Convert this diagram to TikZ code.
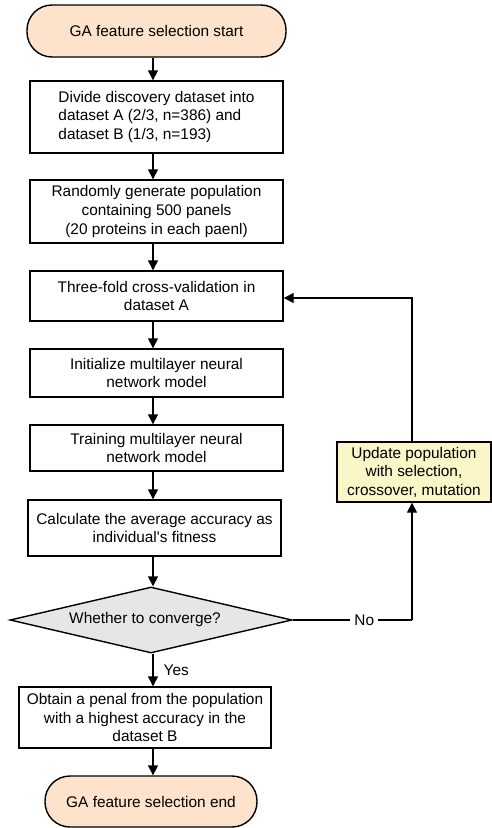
\documentclass[tikz,border=0pt]{standalone}
\usepackage{fontspec}
\setmainfont{Liberation Sans}
\usetikzlibrary{shapes.geometric,arrows.meta}
\definecolor{peach}{HTML}{FDE3CB}
\definecolor{ylw}{HTML}{FAF6C8}
\definecolor{gry}{HTML}{E6E6E6}
\begin{document}
\begin{tikzpicture}[x=1pt,y=-1pt,
  every node/.style={font=\fontsize{15.4}{18.6}\selectfont, inner sep=0pt},
  proc/.style={draw, line width=1.4pt, fill=white, minimum width=253pt, align=center},
  term/.style={draw, line width=1.4pt, fill=peach, rounded corners=25pt},
  arr/.style={line width=1.4pt, -{Triangle[length=10pt,width=10pt]}},
  ln/.style={line width=1.4pt}]
\useasboundingbox (0,0) rectangle (492,828);
\node[term, minimum width=259pt, minimum height=52pt] (start) at (156.5,31) {GA feature selection start};
\node[proc, minimum height=72pt, align=left] (b1) at (156.5,117) {Divide discovery dataset into\\dataset A (2/3, n=386) and\\dataset B (1/3, n=193)};
\node[proc, minimum height=63pt] (b2) at (156.5,211.5) {Randomly generate population\\containing 500 panels\\(20 proteins in each paenl)};
\node[proc, minimum height=50pt] (b3) at (156.5,296) {Three-fold cross-validation in\\dataset A};
\node[proc, minimum height=48pt] (b4) at (156.5,373) {Initialize multilayer neural\\network model};
\node[proc, minimum height=46pt] (b5) at (156.5,448) {Training multilayer neural\\network model};
\node[proc, minimum height=56pt] (b6) at (154.5,528) {Calculate the average accuracy as\\individual\textquotesingle s fitness};
\node[draw, line width=1.4pt, fill=gry, shape=diamond, aspect=4.27, minimum width=282pt, minimum height=66pt] (dec) at (151,620) {Whether to converge?\hspace*{12pt}};
\node[proc, minimum width=252pt, minimum height=61pt] (b7) at (145,717.5) {Obtain a penal from the population\\with a highest accuracy in the\\dataset B};
\node[term, minimum width=212pt, minimum height=51pt] (end) at (151,801.5) {GA feature selection end};
\node[draw, line width=1.4pt, fill=ylw, minimum width=154pt, minimum height=60pt, align=center] (upd) at (414,472) {Update population\\with selection,\\crossover, mutation};
\coordinate (ax) at (153,0);
\coordinate (rx) at (412,0);
\draw[arr] (start.south -| ax) -- (b1.north -| ax);
\draw[arr] (b1.south -| ax) -- (b2.north -| ax);
\draw[arr] (b2.south -| ax) -- (b3.north -| ax);
\draw[arr] (b3.south -| ax) -- (b4.north -| ax);
\draw[arr] (b4.south -| ax) -- (b5.north -| ax);
\draw[arr] (b5.south -| ax) -- (b6.north -| ax);
\draw[arr] (b6.south -| ax) -- (dec.north -| ax);
\draw[arr] (dec.south -| ax) -- node[right=10pt, pos=0.5] (yes) {Yes} (b7.north -| ax);
\draw[arr] (b7.south -| ax) -- (end.north -| ax);
\draw[ln] (dec.east) -- node[fill=white, inner xsep=4pt, pos=0.6] (no) {No} (dec.east -| rx);
\draw[arr] (dec.east -| rx) -- (upd.south -| rx);
\coordinate (tp) at (0,298);
\draw[arr] (upd.north -| rx) -- (tp -| rx) -- (tp -| b3.east);
\end{tikzpicture}
\end{document}
